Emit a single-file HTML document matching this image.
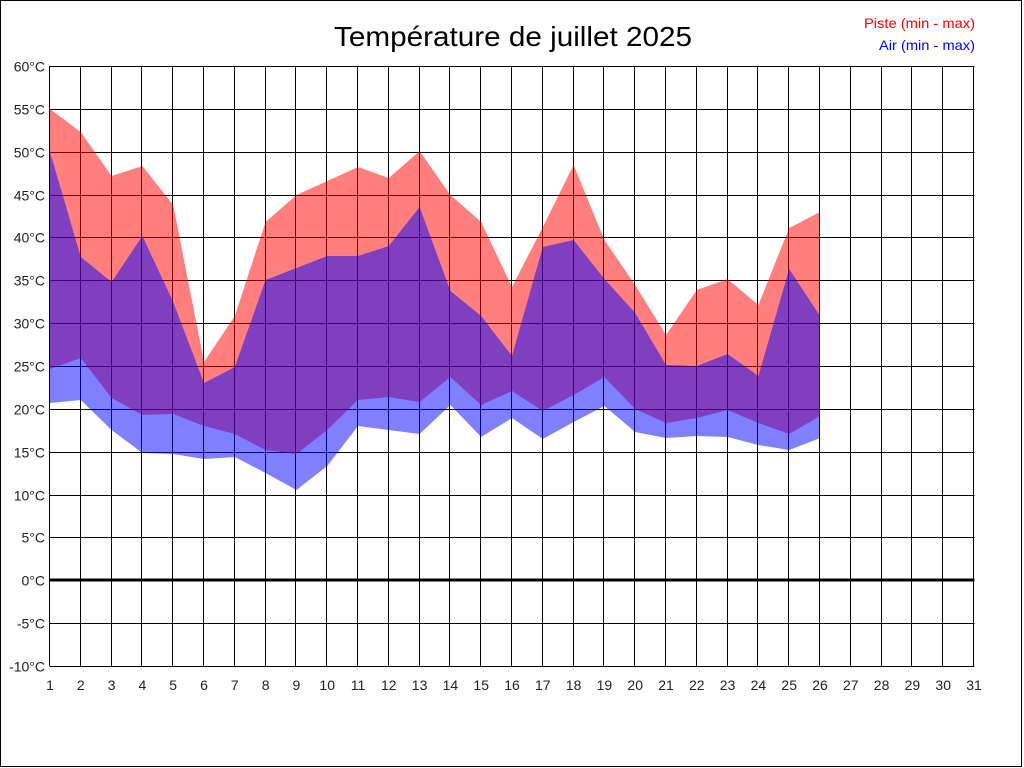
<!DOCTYPE html>
<html><head><meta charset="utf-8"><style>html,body{margin:0;padding:0;background:#fff}svg{display:block}</style></head>
<body>
<svg id="s" width="1024" height="768" xmlns="http://www.w3.org/2000/svg" font-family="Liberation Sans, sans-serif">
<rect x="0.5" y="0.5" width="1021" height="766" fill="#fff" stroke="#000" stroke-width="1"/>
<text x="513" y="46" font-size="28" text-anchor="middle" textLength="358" lengthAdjust="spacingAndGlyphs">Température de juillet 2025</text>
<text x="975" y="28" font-size="14" text-anchor="end" fill="#ff0000" textLength="111" lengthAdjust="spacingAndGlyphs">Piste (min - max)</text>
<text x="975" y="50" font-size="14" text-anchor="end" fill="#0000ff" textLength="96" lengthAdjust="spacingAndGlyphs">Air (min - max)</text>
<g id="grid" stroke="#000" stroke-width="1"></g>
<g id="fills"></g>
<line x1="49.5" y1="580" x2="974.5" y2="580" stroke="#000" stroke-width="3"/>
<g id="labels" font-size="14" fill="#222"></g>
</svg>
<script>
var ns="http://www.w3.org/2000/svg",s=document.getElementById('s');
function el(p,t,a,txt){var e=document.createElementNS(ns,t);for(var k in a)e.setAttribute(k,a[k]);if(txt!=null)e.textContent=txt;p.appendChild(e);return e;}
var g=document.getElementById('grid'),L=document.getElementById('labels'),F=document.getElementById('fills');
function X(i){return 50+(i-1)*30.8;}
for(var i=1;i<=31;i++){var x=Math.round(X(i))-0.5;el(g,'line',{x1:x,y1:66,x2:x,y2:666});el(L,'text',{x:X(i),y:690,'text-anchor':'middle'},String(i));}
for(var k=0;k<=14;k++){var y=Math.round(66+k*600/14)+0.5;el(g,'line',{x1:49.5,y1:y,x2:974.5,y2:y});el(L,'text',{x:45,y:y+5,'text-anchor':'end'},(60-5*k)+'°C');}
var pmax=[109,132,176,166,205,362,316,222,195,181,167,178,151,195,222,287,227,165,240,285,335,290,279,305,228,212];
var pmin=[369,358,398,415,414,426,434,450,454,430,400,397,402,377,405,391,411,395,377,409,423,418,410,423,434,416];
var amax=[152,257,282,236,302,383,367,280,268,256,256,246,207,291,316,356,247,240,279,313,365,366,354,376,269,316];
var amin=[403,400,430,453,454,459,457,473,490,466,426,430,434,405,437,418,439,422,406,432,438,436,437,445,450,438];
function poly(top,bot,col){var pts=[];for(var i=0;i<top.length;i++)pts.push(X(i+1)+','+top[i]);for(var i=bot.length-1;i>=0;i--)pts.push(X(i+1)+','+bot[i]);el(F,'polygon',{points:pts.join(' '),fill:col,'fill-opacity':0.5});}
poly(pmax,pmin,'#ff0000');poly(amax,amin,'#0000ff');
</script>
</body></html>
